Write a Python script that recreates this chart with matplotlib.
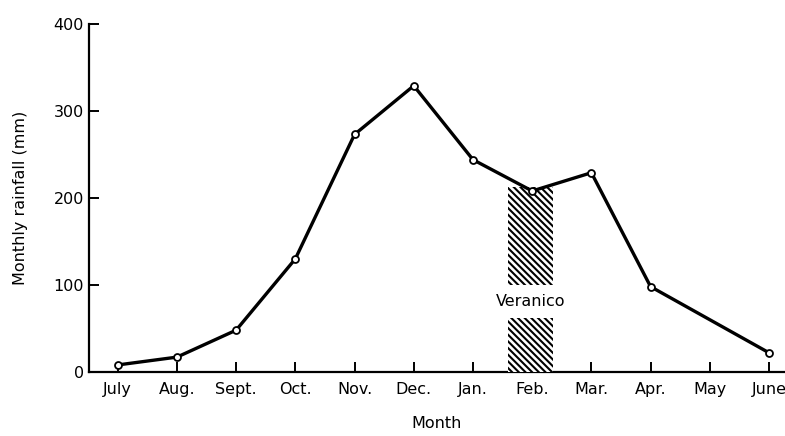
import matplotlib.pyplot as plt
import numpy as np

months = ["July", "Aug.", "Sept.", "Oct.", "Nov.", "Dec.", "Jan.", "Feb.",
          "Mar.", "Apr.", "May", "June"]
# months with an observation (May has none; line goes Apr -> June)
obs_months = ["July", "Aug.", "Sept.", "Oct.", "Nov.", "Dec.", "Jan.", "Feb.",
              "Mar.", "Apr.", "June"]
rainfall = [8, 17, 48, 130, 273, 329, 244, 208, 229, 98, 22]

# veranico (dry spell) band, in month-index units and mm
veranico_x = [6.59, 7.35]
veranico_top = 213
veranico_gap = [62, 100]


def plot(path="out.png"):
    plt.rcParams["hatch.linewidth"] = 1.5
    fig = plt.figure(figsize=(7.85, 4.36), dpi=100)
    ax = fig.add_axes([0.113, 0.147, 0.887, 0.798])

    xs = [months.index(m) for m in obs_months]
    ax.plot(xs, rainfall, color="black", lw=2.4, marker="o", ms=5,
            mfc="white", mec="black", mew=1.3, zorder=5)

    # hatched veranico band, broken where the label sits
    w = veranico_x[1] - veranico_x[0]
    for lo, hi in [(0, veranico_gap[0]), (veranico_gap[1], veranico_top)]:
        ax.bar(veranico_x[0], hi - lo, width=w, bottom=lo, align="edge",
               facecolor="white", edgecolor="black", hatch="\\" * 5,
               linewidth=0, zorder=3)
    ax.text(np.mean(veranico_x), np.mean(veranico_gap), "Veranico",
            ha="center", va="center", fontsize=11.5, zorder=4)

    ax.set_xlim(-0.49, 11.27)
    ax.set_ylim(0, 400)
    ax.set_xticks(range(len(months)))
    ax.set_xticklabels(months)
    ax.set_yticks([0, 100, 200, 300, 400])
    ax.tick_params(direction="in", length=7, width=1.4, labelsize=11.5)
    ax.tick_params(axis="x", pad=7)
    ax.spines["top"].set_visible(False)
    ax.spines["right"].set_visible(False)
    ax.spines["left"].set_linewidth(1.6)
    ax.spines["bottom"].set_linewidth(1.6)
    ax.set_xlabel("Month", fontsize=11.5, labelpad=14)
    ax.set_ylabel("Monthly rainfall (mm)", fontsize=11.5, labelpad=18)

    fig.savefig(path, dpi=100)


if __name__ == "__main__":
    plot()
